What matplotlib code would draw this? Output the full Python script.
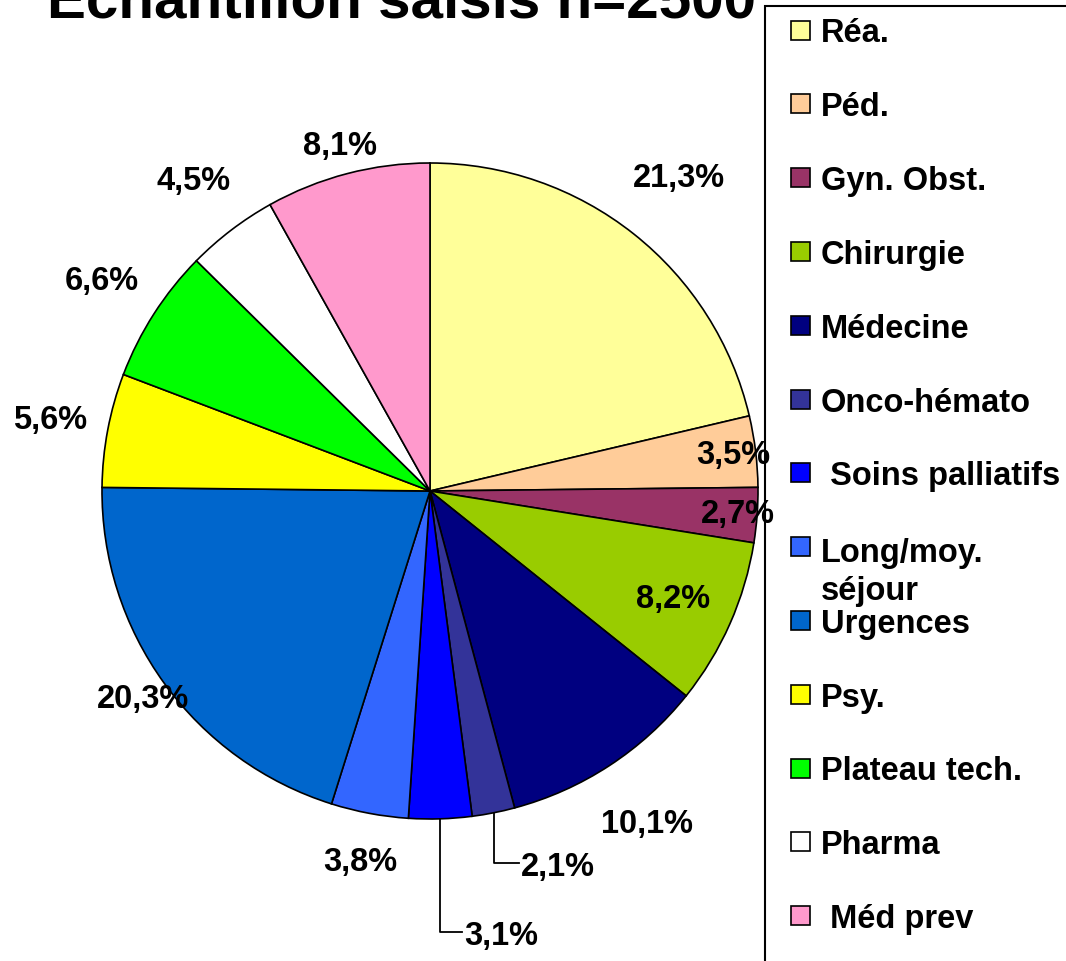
import numpy as np
import matplotlib
matplotlib.use("Agg")
import matplotlib.pyplot as plt
from matplotlib.patches import Rectangle

plt.rcParams['font.family'] = ['Liberation Sans', 'DejaVu Sans']
plt.rcParams['font.weight'] = 'bold'

# données
services = ["Réa.", "Péd.", "Gyn. Obst.", "Chirurgie", "Médecine", "Onco-hémato",
            " Soins palliatifs", "Long/moy.\nséjour", "Urgences", "Psy.",
            "Plateau tech.", "Pharma", " Méd prev"]
pourcent = [21.3, 3.5, 2.7, 8.2, 10.1, 2.1, 3.1, 3.8, 20.3, 5.6, 6.6, 4.5, 8.1]
couleurs = ["#FFFF99", "#FFCC99", "#993366", "#99CC00", "#000080", "#333399",
            "#0000FF", "#3366FF", "#0066CC", "#FFFF00", "#00FF00", "#FFFFFF",
            "#FF99CC"]
titre = "Echantillon saisis n=2500"

# position des étiquettes (fraction du rayon), None = étiquette avec trait
label_r = [1.22, 0.93, 0.94, 0.81, 1.21, None, None, 1.15, 1.08, 1.18, 1.19, 1.19, 1.09]
leaders = {5: (50, 25), 6: (113, 22)}   # descente, longueur horizontale (px)

W, H = 1066, 962
fig = plt.figure(figsize=(W / 100, H / 100), dpi=100)
ax = fig.add_axes([0, 0, 1, 1])

cx, cy, R = 430, H - 492, 328
wedges, _ = ax.pie(pourcent, colors=couleurs, startangle=90, counterclock=False,
                   center=(cx, cy), radius=R,
                   wedgeprops=dict(edgecolor="black", linewidth=1.2))
ax.set_xlim(0, W)
ax.set_ylim(0, H)
ax.set_aspect("equal")
ax.axis("off")

for i, w in enumerate(wedges):
    th = np.deg2rad((w.theta1 + w.theta2) / 2)
    txt = f"{pourcent[i]:.1f}%".replace(".", ",")
    if label_r[i] is not None:
        x = cx + label_r[i] * R * np.cos(th)
        y = cy + label_r[i] * R * np.sin(th)
        ax.text(x, y, txt, ha="center", va="center", fontsize=23.5, fontweight="bold")
    else:
        drop, hl = leaders[i]
        ex = cx + R * np.cos(th)
        ey = cy + R * np.sin(th)
        ax.plot([ex, ex, ex + hl], [ey, ey - drop, ey - drop], color="black", lw=1.3)
        ax.text(ex + hl + 2, ey - drop - 4, txt, ha="left", va="center",
                fontsize=23.5, fontweight="bold")

# légende
ax.add_patch(Rectangle((765, -20), 400, H - 7 + 20, facecolor="none",
                       edgecolor="black", linewidth=1.5, clip_on=False))
y0, dy, lh = 31, 73.8, 41
for i, (lab, col) in enumerate(zip(services, couleurs)):
    yc = H - (y0 + i * dy)
    ax.add_patch(Rectangle((791, yc - 9.5), 19, 19, facecolor=col,
                           edgecolor="black", linewidth=1.2))
    n_extra = lab.count("\n")
    ax.text(821, yc - 11.5 - n_extra * lh, lab, ha="left", va="baseline",
            fontsize=23.5, fontweight="bold", linespacing=1.3)

fig.text(47 / W, 1 - 18 / H, titre, ha="left", va="baseline", fontsize=42,
         fontweight="bold")

fig.savefig("out.png", dpi=100)
